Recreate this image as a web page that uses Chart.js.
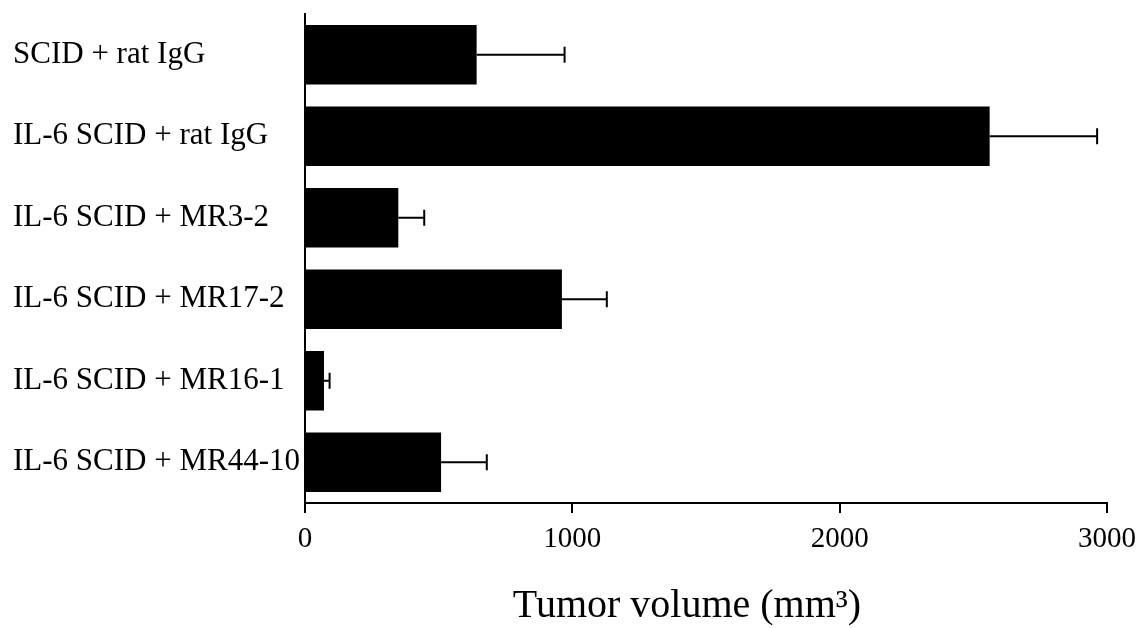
<!DOCTYPE html>
<html>
<head>
<meta charset="utf-8">
<script src="https://cdn.jsdelivr.net/npm/chart.js@4.4.1/dist/chart.umd.min.js"></script>
<style>
  html, body { margin: 0; padding: 0; background: #ffffff; }
  #wrap { width: 1143px; height: 628px; }
</style>
</head>
<body>
<div id="wrap"><canvas id="c" width="1143" height="628"></canvas></div>
<script>
const categories = [
  'SCID + rat IgG',
  'IL-6 SCID + rat IgG',
  'IL-6 SCID + MR3-2',
  'IL-6 SCID + MR17-2',
  'IL-6 SCID + MR16-1',
  'IL-6 SCID + MR44-10'
];
const meanVolume = [642, 2561, 349, 961, 71, 509];
const errorVolume = [329, 402, 97, 168, 21, 171];
const xTickValues = [0, 1000, 2000, 3000];
const xTitle = 'Tumor volume (mm\u00B3)';

const SERIF = '"Liberation Serif", "Times New Roman", serif';

const errorBarPlugin = {
  id: 'errorBars',
  afterDatasetsDraw(chart) {
    const meta = chart.getDatasetMeta(0);
    const xs = chart.scales.x;
    const ctx = chart.ctx;
    ctx.save();
    ctx.strokeStyle = '#000';
    ctx.lineWidth = 2;
    meta.data.forEach((bar, i) => {
      const x0 = xs.getPixelForValue(meanVolume[i]);
      const x1 = xs.getPixelForValue(meanVolume[i] + errorVolume[i]);
      const y = bar.y;
      ctx.beginPath();
      ctx.moveTo(x0, y);
      ctx.lineTo(x1, y);
      ctx.stroke();
      ctx.beginPath();
      ctx.moveTo(x1, y - 8);
      ctx.lineTo(x1, y + 8);
      ctx.stroke();
    });
    ctx.restore();
  }
};

const axisTitlePlugin = {
  id: 'axisTitle',
  afterDraw(chart) {
    const ctx = chart.ctx;
    const a = chart.chartArea;
    ctx.save();
    ctx.fillStyle = '#000';
    ctx.font = '40px ' + SERIF;
    ctx.textAlign = 'center';
    ctx.textBaseline = 'middle';
    ctx.fillText(xTitle, (a.left + a.right) / 2 - 19, chart.height - 22);
    ctx.restore();
  }
};

new Chart(document.getElementById('c'), {
  type: 'bar',
  data: {
    labels: categories,
    datasets: [{
      data: meanVolume,
      backgroundColor: '#000',
      borderWidth: 0,
      barPercentage: 0.73,
      categoryPercentage: 1.0
    }]
  },
  options: {
    indexAxis: 'y',
    responsive: false,
    animation: false,
    layout: { padding: { left: 13, right: 36, top: 14, bottom: 74 } },
    plugins: { legend: { display: false }, tooltip: { enabled: false } },
    scales: {
      x: {
        type: 'linear',
        min: 0,
        max: 3000,
        afterBuildTicks(scale) { scale.ticks = xTickValues.map(v => ({ value: v })); },
        afterFit(scale) { scale.height = 51; scale.paddingRight = 0; scale.paddingLeft = 0; },
        ticks: {
          color: '#000',
          font: { family: SERIF, size: 29, lineHeight: 1.0 },
          padding: 12,
          maxRotation: 0,
          callback: (v) => String(v)
        },
        grid: {
          drawOnChartArea: false,
          drawTicks: true,
          tickLength: 10,
          color: '#000',
          lineWidth: 2
        },
        border: { display: true, color: '#000', width: 2 }
      },
      y: {
        type: 'category',
        afterFit(scale) { scale.width = 292; },
        ticks: {
          color: '#000',
          font: { family: SERIF, size: 31, lineHeight: 0.5 },
          crossAlign: 'far',
          padding: 4
        },
        grid: { display: false, drawTicks: false },
        border: { display: true, color: '#000', width: 2 }
      }
    }
  },
  plugins: [errorBarPlugin, axisTitlePlugin]
});
</script>
</body>
</html>
